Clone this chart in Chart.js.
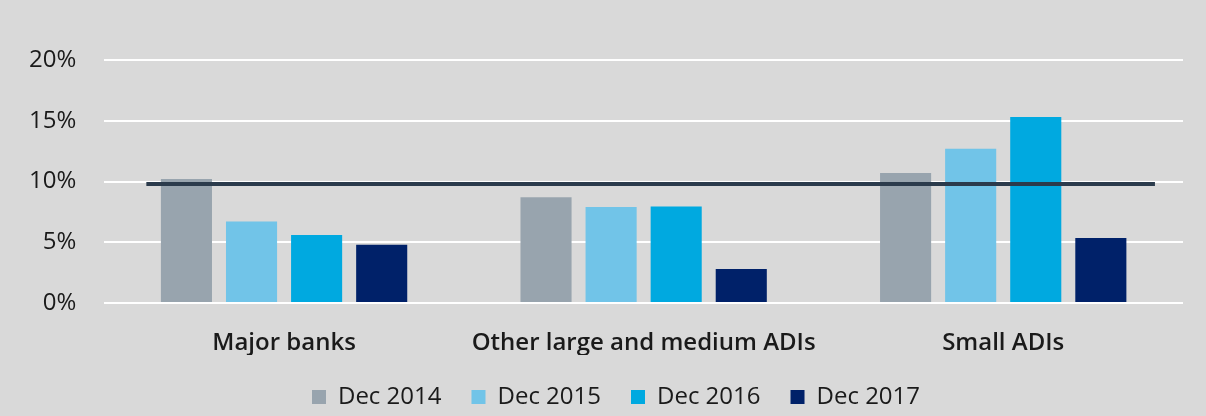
<!DOCTYPE html>
<html>
<head>
<meta charset="utf-8">
<script src="https://cdn.jsdelivr.net/npm/chart.js@4.4.1/dist/chart.umd.min.js"></script>
<style>
    body { margin: 0; background: #d9d9d9; }
    #wrap { width: 1206px; height: 416px; }
</style>
</head>
<body>
<div id="wrap"><canvas id="adiChart" width="1206" height="416"></canvas></div>
<script>
const categories = ["Major banks", "Other large and medium ADIs", "Small ADIs"];
const seriesNames = ["Dec 2014", "Dec 2015", "Dec 2016", "Dec 2017"];
const dec2014 = [10.2, 8.7, 10.7];
const dec2015 = [6.7, 7.9, 12.7];
const dec2016 = [5.6, 7.95, 15.3];
const dec2017 = [4.8, 2.8, 5.35];
const benchmark = 9.8;
// where the benchmark line starts / ends, in category units
const benchmarkSpan = [-0.383, 2.422];
const seriesColors = ["#98a4ae", "#71c4e8", "#00a9e0", "#002169"];

const seriesValues = [dec2014, dec2015, dec2016, dec2017];

const datasets = seriesValues.map((vals, i) => ({
    label: seriesNames[i],
    data: vals,
    backgroundColor: seriesColors[i],
    categoryPercentage: 0.724,
    barPercentage: 0.785
}));

// benchmark line drawn over the bars, positioned with the chart's scales
const benchmarkLine = {
    id: "benchmarkLine",
    afterLayout(chart) {
        // legend sits a bit right of centre in the original
        chart.legend.left += 24;
        chart.legend.right += 24;
    },
    afterDatasetsDraw(chart) {
        const x = chart.scales.x;
        const y = chart.scales.y;
        const c = chart.ctx;
        const yPos = y.getPixelForValue(benchmark);
        c.save();
        c.strokeStyle = "#2b3b4c";
        c.lineWidth = 4;
        c.beginPath();
        c.moveTo(x.getPixelForValue(benchmarkSpan[0]), yPos);
        c.lineTo(x.getPixelForValue(benchmarkSpan[1]), yPos);
        c.stroke();
        c.restore();
    }
};

const ctx = document.getElementById("adiChart").getContext("2d");

new Chart(ctx, {
    type: "bar",
    data: {
        labels: categories,
        datasets: datasets
    },
    options: {
        responsive: false,
        animation: false,
        layout: {
            padding: { top: 60, left: 1, right: 23, bottom: -3 }
        },
        scales: {
            x: {
                grid: { display: false, drawTicks: false },
                border: { display: false },
                ticks: {
                    color: "#1a1a1a",
                    padding: 28,
                    font: { family: "Open Sans", size: 24, weight: "600", lineHeight: 1 }
                },
                afterFit: scale => { scale.height = 52; }
            },
            y: {
                min: 0,
                max: 20,
                grid: { color: "#ffffff", lineWidth: 2, drawTicks: false },
                border: { display: false },
                ticks: {
                    stepSize: 5,
                    padding: 28,
                    color: "#1a1a1a",
                    font: { family: "Open Sans", size: 24, lineHeight: 1 },
                    callback: v => v + "%"
                }
            }
        },
        plugins: {
            tooltip: { enabled: false },
            legend: {
                position: "bottom",
                labels: {
                    boxWidth: 14,
                    boxHeight: 14,
                    padding: 30,
                    color: "#1a1a1a",
                    font: { family: "Open Sans", size: 24 }
                }
            }
        }
    },
    plugins: [benchmarkLine]
});
</script>
</body>
</html>
